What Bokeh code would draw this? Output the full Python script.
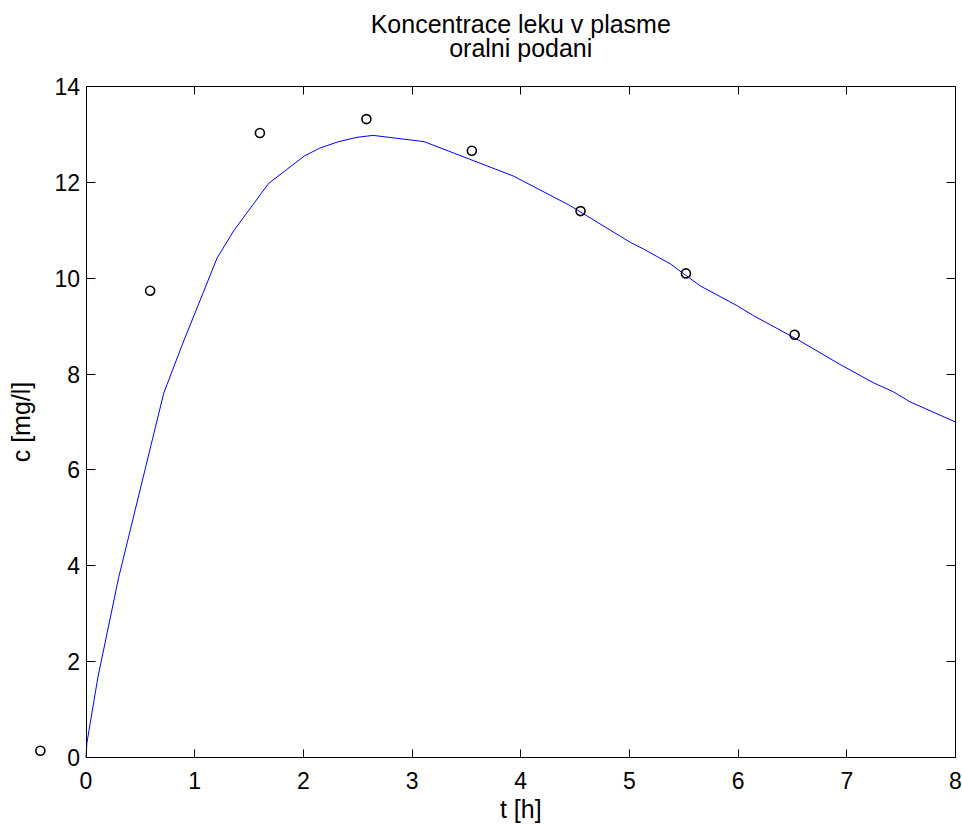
from bokeh.plotting import figure
from bokeh.models import Range1d, LinearAxis, FixedTicker, Label, CustomJSTickFormatter
from bokeh.embed import file_html
from bokeh.resources import INLINE

# measured concentrations (circles)
t_meas = [-0.42, 0.59, 1.60, 2.58, 3.55, 4.55, 5.52, 6.52]
c_meas = [0.14, 9.74, 13.03, 13.32, 12.66, 11.40, 10.10, 8.82]

# model curve (blue line)
t_model = [0.0, 0.008, 0.11, 0.30, 0.715, 0.885, 1.206, 1.359, 1.681, 2.009, 2.156,
           2.325, 2.494, 2.641, 3.11, 3.934, 4.45, 5.007, 5.129, 5.375, 5.651, 5.988,
           6.141, 6.57, 6.938, 7.244, 7.428, 7.582, 8.0]
c_model = [0.0, 0.30, 1.68, 3.75, 7.60, 8.61, 10.42, 10.99, 11.98, 12.55, 12.72,
           12.85, 12.94, 12.98, 12.85, 12.13, 11.52, 10.75, 10.61, 10.30, 9.84, 9.43,
           9.22, 8.69, 8.20, 7.82, 7.63, 7.42, 7.00]

x_ticks = [0, 1, 2, 3, 4, 5, 6, 7, 8]
y_ticks = [0, 2, 4, 6, 8, 10, 12, 14]

title_1 = "Koncentrace leku v plasme"
title_2 = "oralni podani"
x_label = "t [h]"
y_label = "c [mg/l]"

FONT = "Liberation Sans"
TICK_FS = "23px"
LAB_FS = "25px"

# canvas size and where the axes box sits on it (pixels from top-left)
W, H = 962, 825
X0, X8 = 85.5, 955.0      # x of t=0 and t=8
Y14, Y0 = 86.0, 757.0     # y of c=14 and c=0
sx = (X8 - X0) / 8.0
sy = (Y0 - Y14) / 14.0
x_start = -X0 / sx
x_end = 8 + (W - X8) / sx
y_end = 14 + Y14 / sy
y_start = -(H - Y0) / sy

p = figure(width=W, height=H,
           x_range=Range1d(x_start, x_end), y_range=Range1d(y_start, y_end),
           output_backend="svg", toolbar_location=None,
           x_axis_location=None, y_axis_location=None,
           min_border=0, min_border_left=0, min_border_right=0,
           min_border_top=0, min_border_bottom=0)
p.outline_line_color = None
p.background_fill_color = "white"
p.border_fill_color = "white"
p.xgrid.visible = False
p.ygrid.visible = False


def style(ax, tick_len):
    ax.axis_line_color = "black"
    ax.axis_line_width = 1
    ax.major_tick_line_color = "black"
    ax.major_tick_line_width = 1
    ax.major_tick_in = tick_len
    ax.major_tick_out = 0
    ax.minor_tick_line_color = None
    ax.major_label_text_font = FONT
    ax.major_label_text_font_size = TICK_FS
    ax.major_label_text_color = "black"
    ax.axis_label_text_font = FONT
    ax.axis_label_text_font_size = LAB_FS
    ax.axis_label_text_font_style = "normal"
    ax.axis_label_text_color = "black"


empty = CustomJSTickFormatter(code="return ''")

bottom = LinearAxis(ticker=FixedTicker(ticks=x_ticks), bounds=(0, 8), fixed_location=0)
style(bottom, 8)
bottom.major_label_standoff = 14
p.add_layout(bottom, "below")

top = LinearAxis(ticker=FixedTicker(ticks=x_ticks), bounds=(0, 8), fixed_location=14,
                 formatter=empty)
style(top, 8)
p.add_layout(top, "above")

left = LinearAxis(ticker=FixedTicker(ticks=y_ticks), bounds=(0, 14), fixed_location=0,
                  axis_label=y_label)
style(left, 9)
left.major_label_standoff = 6
left.axis_label_standoff = 17
p.add_layout(left, "left")

right = LinearAxis(ticker=FixedTicker(ticks=y_ticks), bounds=(0, 14), fixed_location=8,
                   formatter=empty)
style(right, 9)
p.add_layout(right, "right")

p.line(t_model, c_model, line_color="#0000ff", line_width=1)
p.scatter(t_meas, c_meas, marker="circle", size=9, fill_color=None,
          line_color="black", line_width=1.6)

# titles and x label, centred on the axes box (t = 4)
for txt, yy in [(title_1, 14 + (Y14 - 23.5) / sy),
                (title_2, 14 + (Y14 - 47.0) / sy),
                (x_label, -(808.0 - Y0) / sy)]:
    p.add_layout(Label(x=4, y=yy, text=txt, text_align="center",
                       text_baseline="alphabetic", text_font=FONT,
                       text_font_size=LAB_FS, text_color="black"))

open("out.html", "w").write(file_html(p, INLINE))
